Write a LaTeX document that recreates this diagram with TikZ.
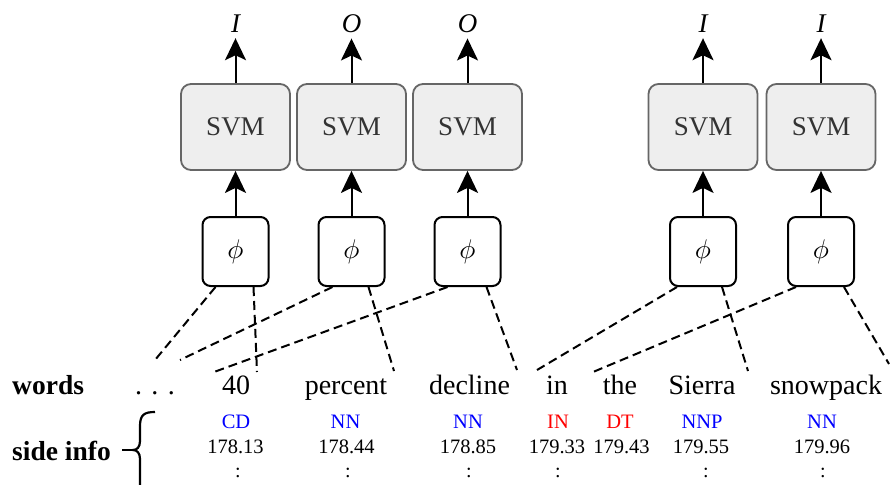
\documentclass[tikz,border=0pt]{standalone}
\usepackage{fontspec}
\setmainfont{Liberation Serif}
\newfontfamily\tnr{Liberation Serif}
\usetikzlibrary{arrows.meta,calc}
\definecolor{svmfill}{HTML}{EEEEEE}
\definecolor{svmline}{HTML}{666666}
\definecolor{svmtext}{HTML}{333333}
\definecolor{posblue}{HTML}{0000FF}
\definecolor{posred}{HTML}{FF0000}
\newcommand{\phisym}{{\fontsize{10}{12}\selectfont\scalebox{2.7}{$\phi$}}}
\begin{document}
\begin{tikzpicture}[x=1pt,y=-1pt,
  svmbox/.style={draw=svmline, fill=svmfill, line width=1.8pt, rounded corners=10pt,
    minimum width=109pt, minimum height=86pt, inner sep=0pt, text=svmtext,
    font=\tnr\fontsize{27}{30}\selectfont},
  phibox/.style={draw, line width=2pt, rounded corners=8pt, fill=white,
    minimum width=66pt, minimum height=69pt, inner sep=0pt},
  outlab/.style={inner sep=0pt, anchor=base, font=\tnr\fontsize{27}{30}\selectfont\itshape},
  arr/.style={line width=2pt, -{Stealth[length=22pt,width=21pt,inset=5pt]}},
  outarr/.style={arr, shorten >=5pt},
  wordlab/.style={inner sep=0pt, anchor=base, font=\tnr\fontsize{28}{30}\selectfont},
  rowlab/.style={inner sep=0pt, anchor=base west, font=\tnr\fontsize{27.5}{30}\selectfont\bfseries},
  postag/.style={inner sep=0pt, anchor=base, font=\tnr\fontsize{20.5}{24}\selectfont},
  numlab/.style={inner sep=0pt, anchor=base, font=\tnr\fontsize{20.5}{24}\selectfont},
  vdotlab/.style={inner sep=0pt, anchor=base, font=\tnr\fontsize{20}{24}\selectfont},
  dashline/.style={line width=2pt, dash pattern=on 9pt off 5pt}
]
\useasboundingbox (0,0) rectangle (890,484);

% SVM boxes
\node[svmbox] (s1) at (235.5,127) {SVM};
\node[svmbox] (s2) at (351.5,127) {SVM};
\node[svmbox] (s3) at (467.5,127) {SVM};
\node[svmbox] (s4) at (703,127) {SVM};
\node[svmbox] (s5) at (821,127) {SVM};

% phi boxes
\node[phibox] (p1) at (235.5,251.5) {\phisym};
\node[phibox] (p2) at (351.5,251.5) {\phisym};
\node[phibox] (p3) at (467.5,251.5) {\phisym};
\node[phibox] (p4) at (703,251.5) {\phisym};
\node[phibox] (p5) at (821,251.5) {\phisym};

% output labels
\node[outlab] (o1) at (235.5,33) {I};
\node[outlab] (o2) at (351.5,33) {O};
\node[outlab] (o3) at (467.5,33) {O};
\node[outlab] (o4) at (703,33) {I};
\node[outlab] (o5) at (821,33) {I};

\foreach \i in {1,...,5}{
  \draw[arr] (p\i) -- (s\i);
  \draw[outarr] (s\i.north) -- (o\i.south);
}

% words row
\node[rowlab] (wl) at (12,394) {words};
\node[wordlab] (w0) at (155,394) {. . .};
\node[wordlab] (w1) at (236,394) {40};
\node[wordlab] (w2) at (346,394) {percent};
\node[wordlab] (w3) at (469.5,394) {decline};
\node[wordlab] (w4) at (557,394) {in};
\node[wordlab] (w5) at (620,394) {the};
\node[wordlab] (w6) at (702,394) {Sierra};
\node[wordlab] (w7) at (826,394) {snowpack};

% side info row
\node[rowlab] (sl) at (12,460) {side info};
\node[postag, text=posblue] (t1) at (236,428) {CD};
\node[postag, text=posblue] (t2) at (345.5,428) {NN};
\node[postag, text=posblue] (t3) at (468,428) {NN};
\node[postag, text=posred]  (t4) at (558,428) {IN};
\node[postag, text=posred]  (t5) at (620,428) {DT};
\node[postag, text=posblue] (t6) at (702,428) {NNP};
\node[postag, text=posblue] (t7) at (822,428) {NN};

\node[numlab] (n1) at (235.5,453) {178.13};
\node[numlab] (n2) at (346.5,453) {178.44};
\node[numlab] (n3) at (468,453) {178.85};
\node[numlab] (n4) at (557,453) {179.33};
\node[numlab] (n5) at (621.5,453) {179.43};
\node[numlab] (n6) at (701,453) {179.55};
\node[numlab] (n7) at (822,453) {179.96};

\node[vdotlab] (d1) at (238,477) {:};
\node[vdotlab] (d2) at (348,477) {:};
\node[vdotlab] (d3) at (469,477) {:};
\node[vdotlab] (d4) at (558,477) {:};
\node[vdotlab] (d6) at (706,477) {:};
\node[vdotlab] (d7) at (823,477) {:};

% brace
\coordinate (btip) at (133,450);
\coordinate (bstart) at (122,450);
\draw[line width=2.2pt] (155,412) .. controls (144,412) and (140,415) .. (140,426)
  -- (140,441) .. controls (140,447) and (137,450) .. (btip)
  .. controls (137,450) and (140,453) .. (140,459) -- (140,490);
\draw[line width=2.2pt] (bstart) -- (btip);

% dashed connectors
\coordinate (e1a) at (155,360);
\coordinate (e1b) at (257,372);
\coordinate (e2a) at (180,360);
\coordinate (e2b) at (394,371);
\coordinate (e3a) at (214,372);
\coordinate (e3b) at (517,370);
\coordinate (e4a) at (537,370);
\coordinate (e4b) at (748,371);
\coordinate (e5a) at (593,372);
\coordinate (e5b) at (889,364);

\draw[dashline] ($(p1.south)+(-20,0)$) -- (e1a);
\draw[dashline] ($(p1.south)+(18,0)$) -- (e1b);
\draw[dashline] ($(p2.south)+(-19,0)$) -- (e2a);
\draw[dashline] ($(p2.south)+(17,0)$) -- (e2b);
\draw[dashline] ($(p3.south)+(-20,0)$) -- (e3a);
\draw[dashline] ($(p3.south)+(19,0)$) -- (e3b);
\draw[dashline] ($(p4.south)+(-26,0)$) -- (e4a);
\draw[dashline] ($(p4.south)+(19,0)$) -- (e4b);
\draw[dashline] ($(p5.south)+(-25,0)$) -- (e5a);
\draw[dashline] ($(p5.south)+(23,0)$) -- (e5b);
\end{tikzpicture}
\end{document}
